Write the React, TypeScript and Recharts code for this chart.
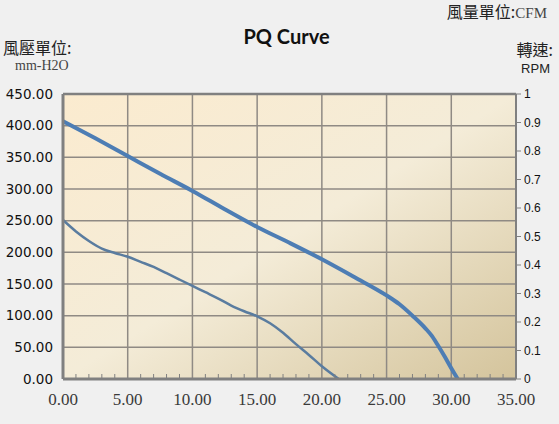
import {
  CartesianGrid,
  Line,
  LineChart,
  ReferenceLine,
  XAxis,
  YAxis,
} from "recharts";

// upper (high speed) curve: flow in CFM, pressure in mm-H2O
const highFlow = [0, 2.5, 5, 7.5, 10, 12.5, 15, 17.5, 20, 22.5, 25, 26, 27, 28, 28.5, 29, 29.5, 30, 30.5];
const highPressure = [407, 380, 352, 324, 297, 268, 240, 215, 189, 161, 132, 118, 100, 80, 68, 52, 35, 17, 0];

// lower (low speed) curve
const lowFlow = [0, 1, 2, 3, 4, 5, 6, 7, 8, 9, 10, 11, 12, 13, 14, 15, 16, 17, 18, 19, 20, 21.3];
const lowPressure = [251, 233, 218, 206, 199, 193, 185, 177, 167, 157, 147, 137, 127, 116, 107, 99, 88, 73, 55, 38, 20, 0];

const xTicks = [0, 1, 2, 3, 4, 5, 6, 7, 8, 9, 10, 11, 12, 13, 14, 15, 16, 17, 18, 19, 20, 21, 22, 23, 24, 25, 26, 27, 28, 29, 30, 31, 32, 33, 34, 35];
const xGrid = [5, 10, 15, 20, 25, 30];
const pressureTicks = [0, 50, 100, 150, 200, 250, 300, 350, 400, 450];
const rpmTicks = [0, 0.1, 0.2, 0.3, 0.4, 0.5, 0.6, 0.7, 0.8, 0.9, 1];

const highData = highFlow.map((q, i) => ({ q, p: highPressure[i] }));
const lowData = lowFlow.map((q, i) => ({ q, p: lowPressure[i] }));

const FRAME = "#808080";
const GRID = "#8f8a84";

function FlowTick(props: any) {
  const { x, y, payload } = props;
  const v = payload.value as number;
  if (v % 5 === 0) {
    return (
      <text
        x={x}
        y={y + 22}
        textAnchor="middle"
        dominantBaseline="middle"
        fontFamily="'Liberation Serif', serif"
        fontSize={17}
        fill="#3a3a3a"
      >
        {v.toFixed(2)}
      </text>
    );
  }
  return <line x1={x} x2={x} y1={y - 1} y2={y - 5} stroke={FRAME} strokeWidth={1} />;
}

const label = { position: "absolute" as const, whiteSpace: "nowrap" as const, color: "#222" };

export default function App() {
  return (
    <div
      style={{
        position: "absolute",
        left: 0,
        top: 0,
        width: 559,
        height: 424,
        background: "#f0f0f0",
        overflow: "hidden",
      }}
    >
      <LineChart width={559} height={424} margin={{ top: 94, right: 0, bottom: 0, left: 0 }}>
        <defs>
          <linearGradient id="plotBg" x1="0" y1="0" x2="1" y2="1">
            <stop offset="0%" stopColor="#fbebcf" />
            <stop offset="50%" stopColor="#f4ecd8" />
            <stop offset="100%" stopColor="#d4c49c" />
          </linearGradient>
        </defs>
        <CartesianGrid vertical={false} stroke={GRID} strokeWidth={1.5} fill="url(#plotBg)" fillOpacity={1} yAxisId="p" />
        <XAxis
          dataKey="q"
          type="number"
          domain={[0, 35]}
          ticks={xTicks}
          interval={0}
          height={45}
          tickSize={0}
          tickMargin={0}
          tickLine={false}
          tick={<FlowTick />}
          axisLine={{ stroke: FRAME, strokeWidth: 3 }}
          allowDataOverflow
        />
        <YAxis
          yAxisId="p"
          type="number"
          domain={[0, 450]}
          ticks={pressureTicks}
          interval={0}
          width={63}
          tickSize={0}
          tickMargin={10}
          tickLine={false}
          tickFormatter={(v: number) => v.toFixed(2)}
          tick={{ fontFamily: "'DejaVu Sans', sans-serif", fontSize: 13.5, fill: "#111" }}
          axisLine={{ stroke: FRAME, strokeWidth: 3 }}
        />
        <YAxis
          yAxisId="rpm"
          orientation="right"
          type="number"
          domain={[0, 1]}
          allowDataOverflow
          ticks={rpmTicks}
          interval={0}
          width={43}
          tickSize={5}
          tickMargin={3}
          tickLine={{ stroke: FRAME }}
          tickFormatter={(v: number) => (v === 0 || v === 1 ? String(v) : v.toFixed(1))}
          tick={{ fontFamily: "'Liberation Sans', sans-serif", fontSize: 12, fill: "#111" }}
          axisLine={{ stroke: FRAME, strokeWidth: 2 }}
        />
        {xGrid.map((v) => (
          <ReferenceLine key={v} x={v} yAxisId="p" stroke={GRID} strokeWidth={1.5} />
        ))}
        <ReferenceLine y={450} yAxisId="p" stroke={FRAME} strokeWidth={2.5} />
        <Line
          data={lowData}
          yAxisId="p"
          dataKey="p"
          type="monotone"
          stroke="#5a7c9f"
          strokeWidth={2.5}
          dot={false}
          isAnimationActive={false}
        />
        <Line
          data={highData}
          yAxisId="p"
          dataKey="p"
          type="monotone"
          stroke="#4d7db4"
          strokeWidth={4}
          dot={false}
          isAnimationActive={false}
        />
      </LineChart>

      <div
        style={{
          ...label,
          left: 0,
          top: 24,
          width: 559,
          textAlign: "center",
          marginLeft: 7,
          fontFamily: "Lato, sans-serif",
          fontWeight: 700,
          fontSize: 20,
          color: "#111",
        }}
      >
        PQ Curve
      </div>
      <div style={{ ...label, left: 3, top: 35, fontFamily: "'Noto Sans CJK TC', sans-serif", fontSize: 16 }}>
        風壓單位:
      </div>
      <div style={{ ...label, left: 15, top: 58, fontFamily: "'Liberation Serif', serif", fontSize: 14, color: "#444" }}>
        mm-H2O
      </div>
      <div style={{ ...label, right: 12, top: -1, fontFamily: "'Noto Sans CJK TC', sans-serif", fontSize: 16 }}>
        風量單位:<span style={{ fontFamily: "'Liberation Serif', serif", color: "#444", fontSize: 15 }}>CFM</span>
      </div>
      <div style={{ ...label, right: 6, top: 37, fontFamily: "'Noto Sans CJK TC', sans-serif", fontSize: 16 }}>
        轉速:
      </div>
      <div style={{ ...label, right: 9, top: 61, fontFamily: "'Liberation Sans', sans-serif", fontSize: 13 }}>
        RPM
      </div>
    </div>
  );
}
